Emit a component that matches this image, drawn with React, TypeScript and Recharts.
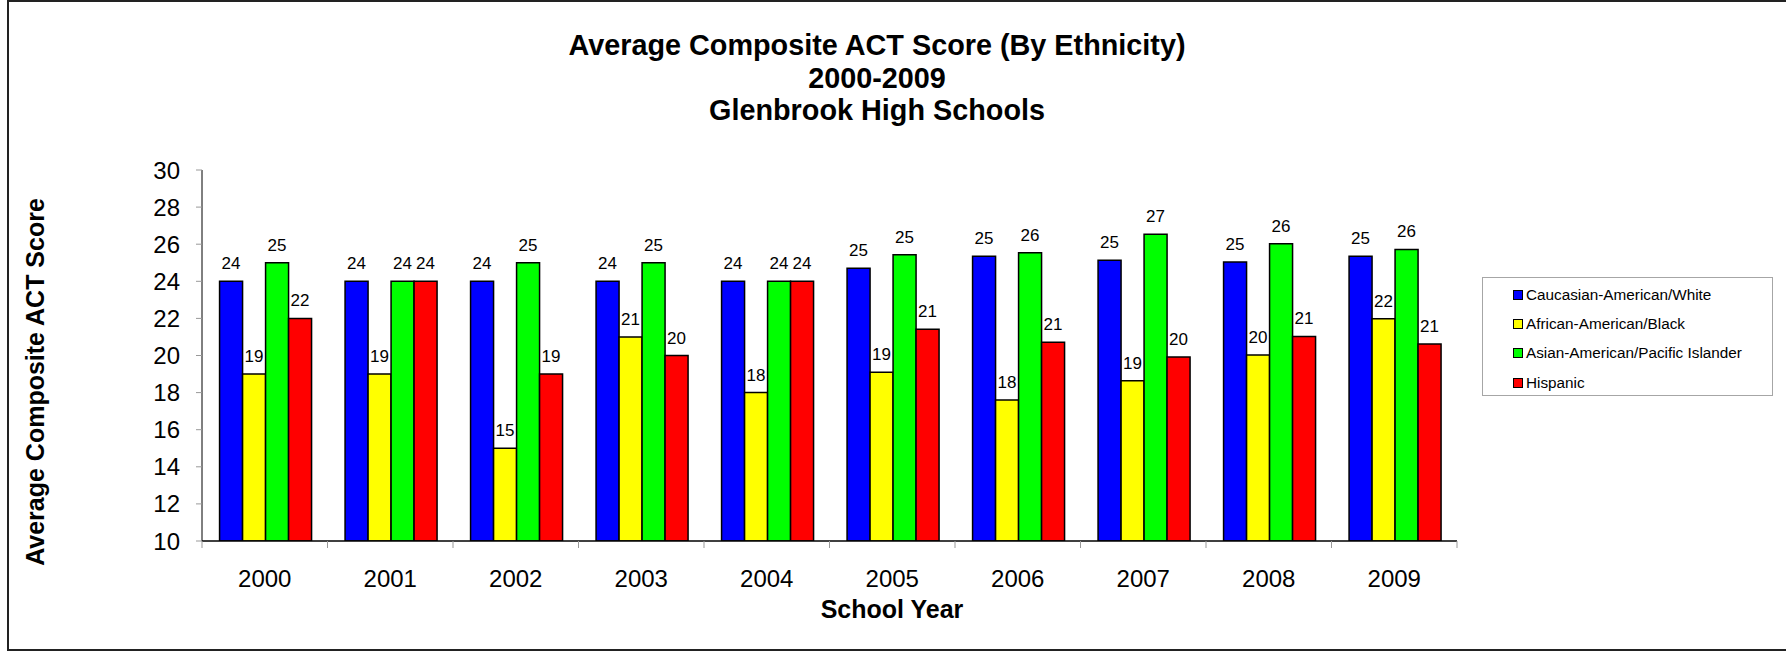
import { Bar, BarChart, LabelList, Legend, XAxis, YAxis } from 'recharts';

const YEARS = ['2000', '2001', '2002', '2003', '2004', '2005', '2006', '2007', '2008', '2009'];
const SERIES_NAMES = [
  'Caucasian-American/White',
  'African-American/Black',
  'Asian-American/Pacific Islander',
  'Hispanic',
];
const WHITE = [24, 24, 24, 24, 24, 24.7, 25.35, 25.13, 25.04, 25.35];
const BLACK = [19, 19, 15, 21, 18, 19.1, 17.6, 18.64, 20.03, 21.98];
const ASIAN = [25, 24, 25, 25, 24, 25.43, 25.54, 26.53, 26.03, 25.72];
const HISPANIC = [22, 24, 19, 20, 24, 21.41, 20.71, 19.92, 21.03, 20.62];
const Y_TICKS = [10, 12, 14, 16, 18, 20, 22, 24, 26, 28, 30];
const COLORS = ['#0000ff', '#ffff00', '#00ff00', '#ff0000'];
const KEYS = ['white', 'black', 'asian', 'hispanic'];

const data = YEARS.map((year, i) => ({
  year,
  white: WHITE[i],
  black: BLACK[i],
  asian: ASIAN[i],
  hispanic: HISPANIC[i],
}));

const FONT = '"Liberation Sans", Arial, Helvetica, sans-serif';
const X_TICK_SIZE = 7;
const X_TICK_MARGIN = 22;

const XTick = (props: any) => {
  const { x, y, payload, index, visibleTicksCount } = props;
  const half = payload?.offset ?? 62.75;
  const top = y - X_TICK_SIZE - X_TICK_MARGIN;
  return (
    <g>
      <line x1={x - half} x2={x - half} y1={top} y2={top + X_TICK_SIZE} stroke="#999" />
      {index === visibleTicksCount - 1 ? (
        <line x1={x + half} x2={x + half} y1={top} y2={top + X_TICK_SIZE} stroke="#999" />
      ) : null}
      <text x={x} y={y} dy={17} textAnchor="middle" fontSize={24} fill="#000" fontFamily={FONT}>
        {payload.value}
      </text>
    </g>
  );
};

const renderYLabel = () => (
  <text
    x={35}
    y={382}
    transform="rotate(-90 35 382)"
    textAnchor="middle"
    dominantBaseline="central"
    fontSize={25}
    fontWeight="bold"
    fontFamily={FONT}
    fill="#000"
  >
    Average Composite ACT Score
  </text>
);

const renderLegend = (props: any) => {
  const items = [...(props.payload || [])].sort(
    (a: any, b: any) => SERIES_NAMES.indexOf(a.value) - SERIES_NAMES.indexOf(b.value),
  );
  return (
    <div
      style={{
        border: '1px solid #a6a6a6',
        width: 291,
        height: 119,
        boxSizing: 'border-box',
        paddingTop: 2,
        fontFamily: FONT,
        fontSize: 15.3,
        background: '#fff',
      }}
    >
      {items.map((entry: any) => (
        <div key={entry.value} style={{ display: 'flex', alignItems: 'center', height: 29.3, paddingLeft: 30 }}>
          <span
            style={{
              display: 'inline-block',
              width: 8,
              height: 8,
              background: entry.color,
              border: '1px solid #000',
              marginRight: 3,
            }}
          />
          <span style={{ color: '#000' }}>{entry.value}</span>
        </div>
      ))}
    </div>
  );
};

export default function App() {
  return (
    <div style={{ position: 'absolute', left: 0, top: 0, width: 1786, height: 654, background: '#fff' }}>
      <div
        style={{
          position: 'absolute',
          left: 7,
          top: 0,
          width: 1790,
          height: 651,
          borderTop: '2px solid #222',
          borderLeft: '2px solid #222',
          borderBottom: '2px solid #222',
          boxSizing: 'border-box',
        }}
      />
      <div
        style={{
          position: 'absolute',
          left: 0,
          top: 29,
          width: 1754,
          textAlign: 'center',
          fontFamily: FONT,
          fontWeight: 'bold',
          fontSize: 28.8,
          lineHeight: '32.5px',
          color: '#000',
        }}
      >
        <div>Average Composite ACT Score (By Ethnicity)</div>
        <div>2000-2009</div>
        <div>Glenbrook High Schools</div>
      </div>
      <div
        style={{
          position: 'absolute',
          left: 0,
          top: 594,
          width: 1784,
          textAlign: 'center',
          fontFamily: FONT,
          fontWeight: 'bold',
          fontSize: 25,
          lineHeight: '30px',
          color: '#000',
        }}
      >
        School Year
      </div>
      <div style={{ position: 'absolute', left: 0, top: 0 }}>
        <BarChart
          width={1786}
          height={654}
          data={data}
          margin={{ top: 170, right: 329, bottom: 43, left: 142 }}
          barCategoryGap="14%"
          barGap={0}
        >
          <XAxis
            dataKey="year"
            height={70}
            tickSize={X_TICK_SIZE}
            tickMargin={X_TICK_MARGIN}
            tickLine={false}
            axisLine={{ stroke: '#000', strokeWidth: 1.5 }}
            tick={<XTick />}
            interval={0}
          />
          <YAxis
            width={60}
            domain={[10, 30]}
            ticks={Y_TICKS}
            allowDataOverflow
            tickSize={6}
            tickMargin={16}
            tickLine={{ stroke: '#999' }}
            axisLine={{ stroke: '#000', strokeWidth: 1 }}
            tick={{ fontSize: 24, fill: '#000', fontFamily: FONT }}
            label={{ value: 'Average Composite ACT Score', content: renderYLabel }}
          />
          <Legend
            layout="vertical"
            align="center"
            verticalAlign="middle"
            wrapperStyle={{ left: 1482, top: 277, width: 291, height: 119 }}
            content={renderLegend}
          />
          {KEYS.map((key, i) => (
            <Bar
              key={key}
              dataKey={key}
              name={SERIES_NAMES[i]}
              fill={COLORS[i]}
              stroke="#000"
              strokeWidth={1.5}
              isAnimationActive={false}
            >
              <LabelList
                dataKey={key}
                position="top"
                offset={12}
                formatter={(v: any) => Math.round(Number(v))}
                style={{ fontSize: 17, fill: '#000', fontFamily: FONT }}
              />
            </Bar>
          ))}
        </BarChart>
      </div>
    </div>
  );
}
